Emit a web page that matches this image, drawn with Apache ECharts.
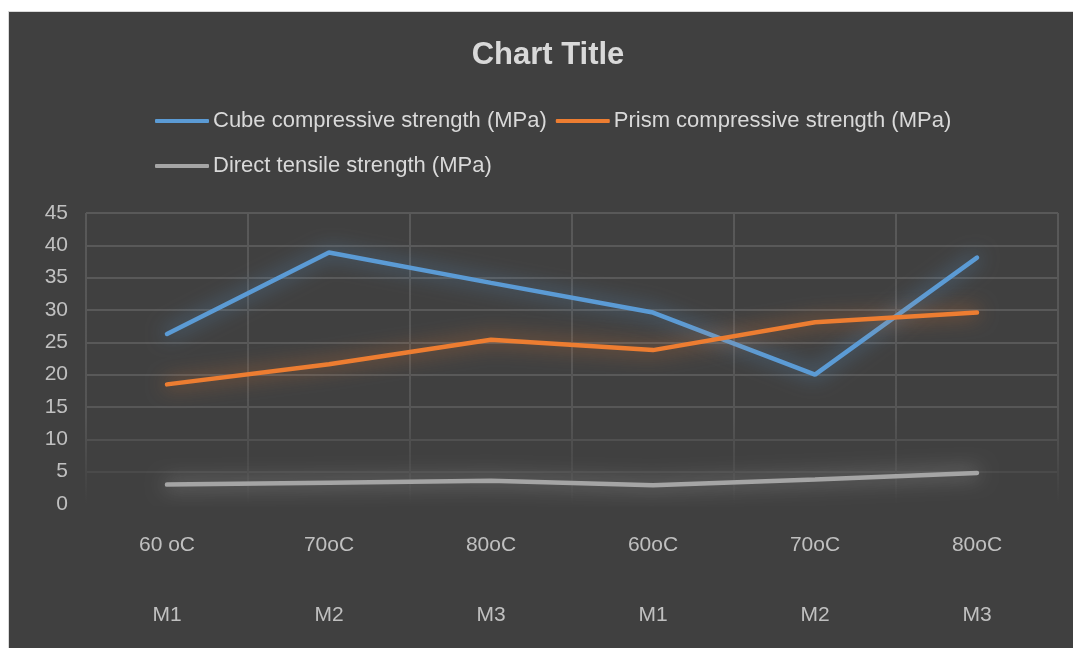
<!DOCTYPE html>
<html><head><meta charset="utf-8">
<script src="https://cdn.jsdelivr.net/npm/echarts@6/dist/echarts.min.js"></script>
<style>
html,body{margin:0;padding:0;background:#fff;width:1073px;height:648px;overflow:hidden;}
#frame{position:absolute;left:8px;top:11px;width:1065px;height:637px;background:#d9d9d9;}
#chart{position:absolute;left:9px;top:12px;width:1064px;height:636px;}
</style></head>
<body>
<div id="frame"></div>
<div id="chart"></div>
<script>
const temps = ["60 oC", "70oC", "80oC", "60oC", "70oC", "80oC"];
const mixes = ["M1", "M2", "M3", "M1", "M2", "M3"];
const yTicks = [0, 5, 10, 15, 20, 25, 30, 35, 40, 45];
const cubeStrength = [26.3, 38.9, 34.2, 29.6, 20.0, 38.1];
const prismStrength = [18.5, 21.6, 25.4, 23.8, 28.1, 29.6];
const tensileStrength = [3.0, 3.3, 3.6, 2.9, 3.8, 4.8];
const seriesNames = ["Cube compressive strength (MPa)", "Prism compressive strength (MPa)", "Direct tensile strength (MPa)"];
const colors = ["#5b9bd5", "#ed7d31", "#a5a5a5"];
const glows = ["rgba(91,155,213,0.75)", "rgba(237,125,49,0.75)", "rgba(200,200,200,0.7)"];

const FONT = "'Liberation Sans', Arial, sans-serif";
const chart = echarts.init(document.getElementById('chart'));
const dataSets = [cubeStrength, prismStrength, tensileStrength];

function legendCfg(names, top) {
  return {
    data: names, top: top, left: 146, padding: 0,
    itemWidth: 54, itemHeight: 4, itemGap: 9, icon: 'roundRect',
    textStyle: { color: '#d9d9d9', fontSize: 22, fontFamily: FONT, padding: [0,0,0,-1] }
  };
}

chart.setOption({
  backgroundColor: '#404040',
  animation: false,
  textStyle: { fontFamily: FONT },
  title: {
    text: 'Chart Title', left: 539, top: 28, textAlign: 'center', padding: 0,
    textStyle: { color: '#d9d9d9', fontSize: 31, fontWeight: 'bold', fontFamily: FONT }
  },
  legend: [legendCfg(seriesNames.slice(0, 2), 98), legendCfg(seriesNames.slice(2), 143)],
  grid: { left: 77, right: 15, top: 201, bottom: 144, containLabel: false },
  xAxis: [{
    type: 'category', data: temps, boundaryGap: true,
    axisLine: { show: false }, axisTick: { show: false },
    axisLabel: { color: '#c0c0c0', fontSize: 21, fontFamily: FONT, margin: 31, interval: 0 },
    splitLine: { show: true, lineStyle: { width: 2,
      color: new echarts.graphic.LinearGradient(0, 201, 0, 492, [
        { offset: 0, color: '#595959' }, { offset: 0.7, color: '#555555' }, { offset: 1, color: '#404040' }], true) } }
  }, {
    type: 'category', data: mixes, position: 'bottom', offset: 70, boundaryGap: true,
    axisLine: { show: false }, axisTick: { show: false },
    axisLabel: { color: '#c0c0c0', fontSize: 21, fontFamily: FONT, margin: 31, interval: 0 },
    splitLine: { show: false }
  }],
  yAxis: {
    type: 'value', min: 0, max: 45, interval: 5,
    axisLine: { show: false }, axisTick: { show: false },
    axisLabel: { color: '#c0c0c0', fontSize: 21, fontFamily: FONT, margin: 18,
      formatter: v => yTicks.includes(v) ? String(v) : '' },
    splitLine: { lineStyle: { width: 2,
      color: ['#404040', '#4a4a4a', '#505050', '#575757', '#595959', '#595959', '#595959', '#595959', '#595959', '#595959'] } }
  },
  series: dataSets.map((d, i) => ({
    name: seriesNames[i], type: 'line', data: d, xAxisIndex: 0,
    symbol: 'none', smooth: false, color: colors[i],
    lineStyle: { width: 4.5, color: colors[i], shadowBlur: 20, shadowColor: glows[i], cap: 'round' }
  }))
});
</script>
</body></html>
